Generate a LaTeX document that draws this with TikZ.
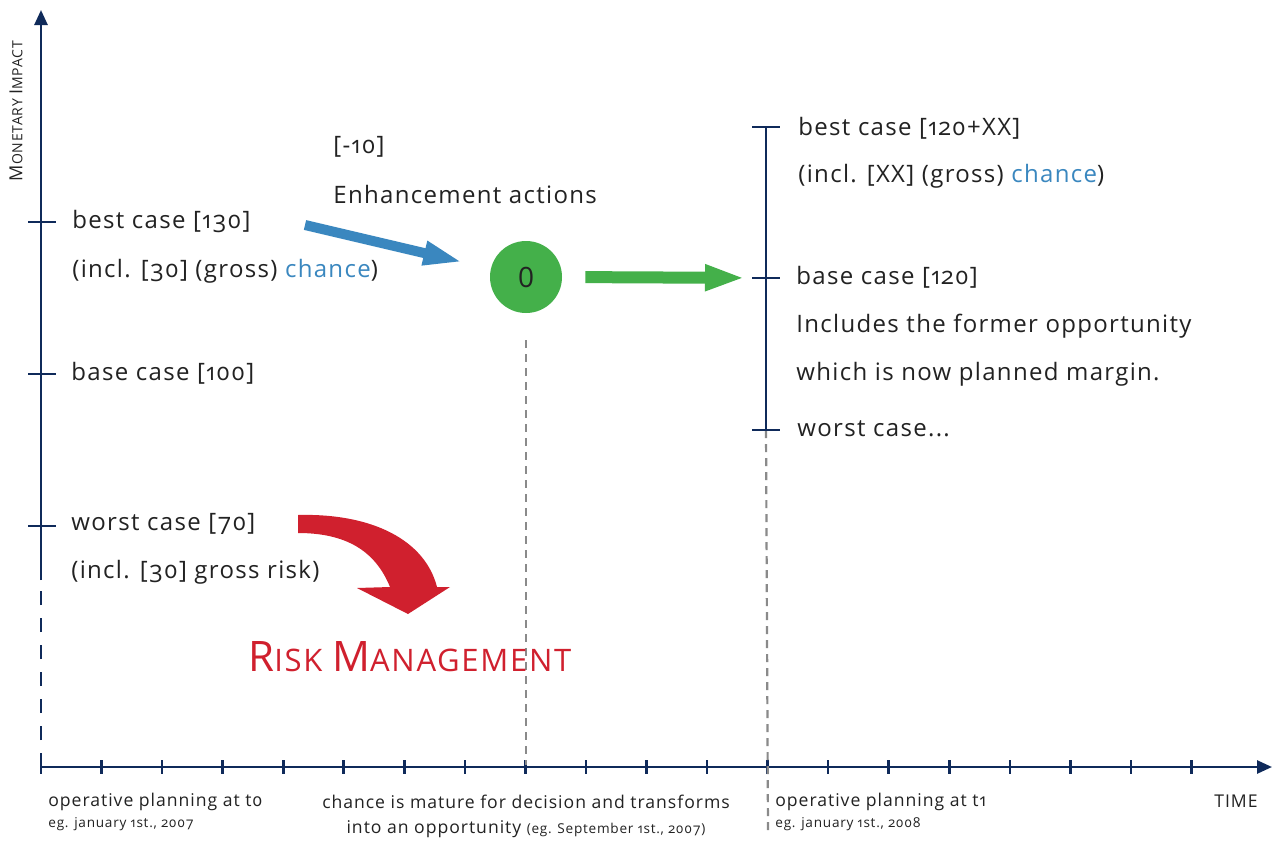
\documentclass[tikz,border=0pt]{standalone}
\usepackage{fontspec}
\setmainfont[Numbers=OldStyle,LetterSpace=5.5]{Open Sans}
\usetikzlibrary{arrows,arrows.meta,positioning}
\definecolor{axisblue}{HTML}{0F2A5A}
\definecolor{chanceblue}{HTML}{3A87BF}
\definecolor{oppgreen}{HTML}{44B04A}
\definecolor{riskred}{HTML}{D0202E}
\definecolor{textgray}{HTML}{222222}
\definecolor{guidegray}{HTML}{8A8A8A}
\newcommand{\chancetxt}{\textcolor{chanceblue}{chance}}
\tikzset{
	axis/.style={draw=axisblue, line width=1.3pt},
	case/.style={anchor=west, inner sep=0pt, text=textgray, font=\fontsize{12}{14}\selectfont},
	timelbl/.style={anchor=west, inner sep=0pt, text=textgray, font=\fontsize{8.8}{10}\selectfont},
	datenote/.style={anchor=west, inner sep=0pt, text=textgray, font=\fontsize{6.8}{8}\selectfont},
	guide/.style={draw=guidegray, line width=1.1pt, dash pattern=on 4pt off 3pt}
}

\begin{document}
\begin{tikzpicture}[x=0.5pt,y=-0.5pt]
	\useasboundingbox[fill=white] (0,0) rectangle (1274,841);
	% axes
	\coordinate (origin) at (41,767);
	\coordinate (ybreak) at (41,580);
	\coordinate (ytop) at (41,10);
	\coordinate (xend) at (1272,767);
	\draw[axis,-{Triangle[length=7.5pt,width=6.5pt]}] (ybreak) -- (ytop);
	\draw[axis,dash pattern=on 7pt off 6.5pt] (origin) -- (ybreak);
	\draw[axis,-{Triangle[length=7.5pt,width=6.5pt]}] (origin) -- (xend);
	\draw[axis] (41,760) -- (41,774);
	\foreach \i in {1,...,19}
		\draw[axis] (41+\i*60.55,760) -- (41+\i*60.55,774);
	\foreach \y in {222,374,526}
		\draw[axis] (28,\y) -- (56,\y);
	\node[rotate=90, text=textgray, inner sep=0pt] (mi) at (16,111)
		{\fontsize{9}{10}\selectfont M\fontsize{7}{8}\selectfont ONETARY \fontsize{9}{10}\selectfont I\fontsize{7}{8}\selectfont MPACT};
	\node[timelbl, anchor=east] (time) at (1258,801) {TIME};

	% guides
	\node[circle, fill=oppgreen, minimum size=36pt, inner sep=0pt, text=textgray,
		font=\fontsize{14}{14}\selectfont\addfontfeature{Numbers=Lining}] (opp) at (526,277) {0};
	\coordinate (oppfoot) at (526,765);
	\draw[guide] (opp.south) ++(0,27) -- (oppfoot);
	\coordinate (rtop) at (766,127);
	\coordinate (rbase) at (766,278);
	\coordinate (rworst) at (766,430);
	\coordinate (rfoot) at (768,832);
	\draw[guide] (rworst) -- (rfoot);
	\draw[axis] (rtop) -- (rworst);
	\foreach \y in {127,278,430}
		\draw[axis] (752,\y) -- (780,\y);

	% left: planning at t0
	\node[case] (best) at (72,222) {best case [130]};
	\node[case] (bestinc) at (72,271) {(incl. [30] (gross) \chancetxt)};
	\node[case] (base) at (71,373) {base case [100]};
	\node[case] (worst) at (71,524) {worst case [70]};
	\node[case] (worstinc) at (71,572) {(incl. [30] gross risk)};

	% enhancement
	\node[case] (enhval) at (333,147) {[-10]};
	\node[case] (enh) at (333,194) {Enhancement actions};
	\coordinate (enhstart) at (305,225);
	\draw[chanceblue, line width=5pt, shorten >=14pt, -{Triangle[length=20pt,width=11pt]}] (enhstart) -- (opp);
	\draw[oppgreen, line width=6pt, shorten <=11.5pt, shorten >=10.5pt, -{Triangle[length=20pt,width=12pt]}] (opp.east) -- (rbase);

	% right: planning at t1
	\node[case] (rbest) at (798,128) {best case [120+XX]};
	\node[case] (rbestinc) at (798,176) {(incl. [XX] (gross) \chancetxt)};
	\node[case] (rbasetxt) at (796,277) {base case [120]};
	\node[case] (rinc1) at (796,326) {Includes the former opportunity};
	\node[case] (rinc2) at (796,374) {which is now planned margin.};
	\node[case] (rworsttxt) at (797,429) {worst case...};

	% risk management
	\fill[riskred] (298,515) .. controls (372,513) and (425,540) .. (437,587)
		-- (450,587) -- (408,614) -- (357,588) -- (390,587)
		.. controls (375,550) and (345,533) .. (298,533) -- cycle;
	\node[anchor=west, inner sep=0pt, text=riskred] (risk) at (248,657)
		{\fontsize{21}{24}\selectfont R\fontsize{15.5}{18}\selectfont ISK \fontsize{21}{24}\selectfont M\fontsize{15.5}{18}\selectfont ANAGEMENT};

	% time labels
	\node[timelbl] (t0) at (48,802) {operative planning at t0};
	\node[datenote] (t0date) at (48,824) {eg. january 1st., 2007};
	\node[timelbl, anchor=center] (mature1) at (526,802) {chance is mature for decision and transforms};
	\node[timelbl, anchor=center] (mature2) at (526,829) {into an opportunity {\fontsize{6.8}{8}\selectfont (eg. September 1st., 2007)}};
	\node[timelbl] (t1) at (775,802) {operative planning at t1};
	\node[datenote] (t1date) at (775,824) {eg. january 1st., 2008};
\end{tikzpicture}
\end{document}
